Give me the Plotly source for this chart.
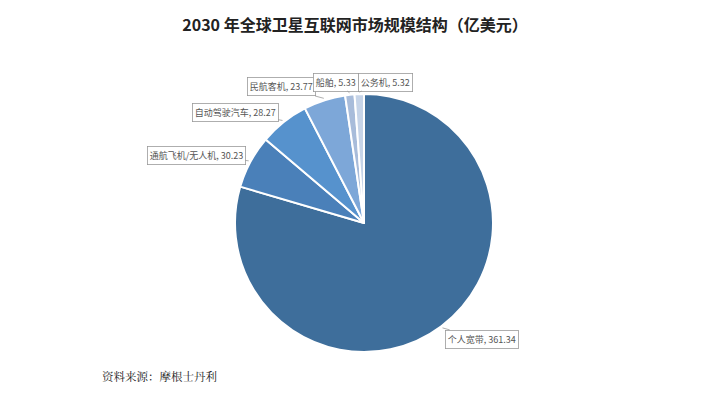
import math
import plotly.graph_objects as go

# data
labels = ["个人宽带", "通航飞机/无人机", "自动驾驶汽车", "民航客机", "船舶", "公务机"]
values = [361.34, 30.23, 28.27, 23.77, 5.33, 5.32]
colors = ["#3E6E9B", "#4A80B9", "#5692CD", "#7DA7D8", "#A8BCDA", "#C6D4E8"]

# page has an 8px body margin, so the figure is drawn 8px smaller and shifted
OFF = 8
W, H = 711 - OFF, 403 - OFF
# pie geometry (pixels, page coords minus offset)
cx, cy, r = 364 - OFF, 223 - OFF, 129
mt, mb = cy - r, H - (cy + r)

# label box centres (page pixels), layout only
label_pos = {
    "个人宽带": (482, 339),
    "通航飞机/无人机": (196, 155),
    "自动驾驶汽车": (235, 112),
    "民航客机": (281, 87),
    "船舶": (336, 82),
    "公务机": (385, 82),
}

fig = go.Figure(go.Pie(
    labels=labels,
    values=values,
    sort=False,
    direction="clockwise",
    rotation=0,
    textinfo="none",
    hoverinfo="label+value",
    marker=dict(colors=colors, line=dict(color="white", width=2)),
    domain=dict(x=[(cx - r) / W, (cx + r) / W], y=[0, 1]),
    showlegend=False,
))

total = sum(values)
annotations = []
cum = 0
for lab, v in zip(labels, values):
    mid = (cum + v / 2) / total * 2 * math.pi
    cum += v
    tx = cx + (r + 2) * math.sin(mid)
    ty = cy - (r + 2) * math.cos(mid)
    lx, ly = label_pos[lab]
    lx, ly = lx - OFF, ly - OFF
    annotations.append(dict(
        x=tx / W, y=(H - ty - mb) / (H - mt - mb),
        xref="paper", yref="paper",
        ax=lx - tx, ay=ly - ty,
        text=f"{lab}, {v:.2f}",
        showarrow=True, arrowhead=0, arrowwidth=0.8, arrowcolor="#9a9a9a",
        bordercolor="#9a9a9a", borderwidth=0.8, borderpad=2, bgcolor="white",
        font=dict(size=9, color="#555555", family="Noto Sans CJK SC"),
    ))

annotations.append(dict(
    x=(100 - OFF) / W, y=(H - (376 - OFF) - mb) / (H - mt - mb),
    xref="paper", yref="paper",
    xanchor="left", yanchor="middle", showarrow=False,
    text="资料来源：摩根士丹利",
    font=dict(size=11.5, color="#222222", family="Noto Serif CJK SC, Noto Sans CJK SC"),
))

fig.update_layout(
    width=W, height=H,
    margin=dict(l=0, r=0, t=mt, b=mb),
    paper_bgcolor="white", plot_bgcolor="white",
    title=dict(
        text="<b>2030 年全球卫星互联网市场规模结构（亿美元）</b>",
        x=(355 - OFF) / W, xanchor="center", y=1 - (25 - OFF) / H, yanchor="middle",
        font=dict(size=16, color="#222222", family="Noto Sans CJK SC"),
    ),
    annotations=annotations,
)

fig.write_html("out.html")
